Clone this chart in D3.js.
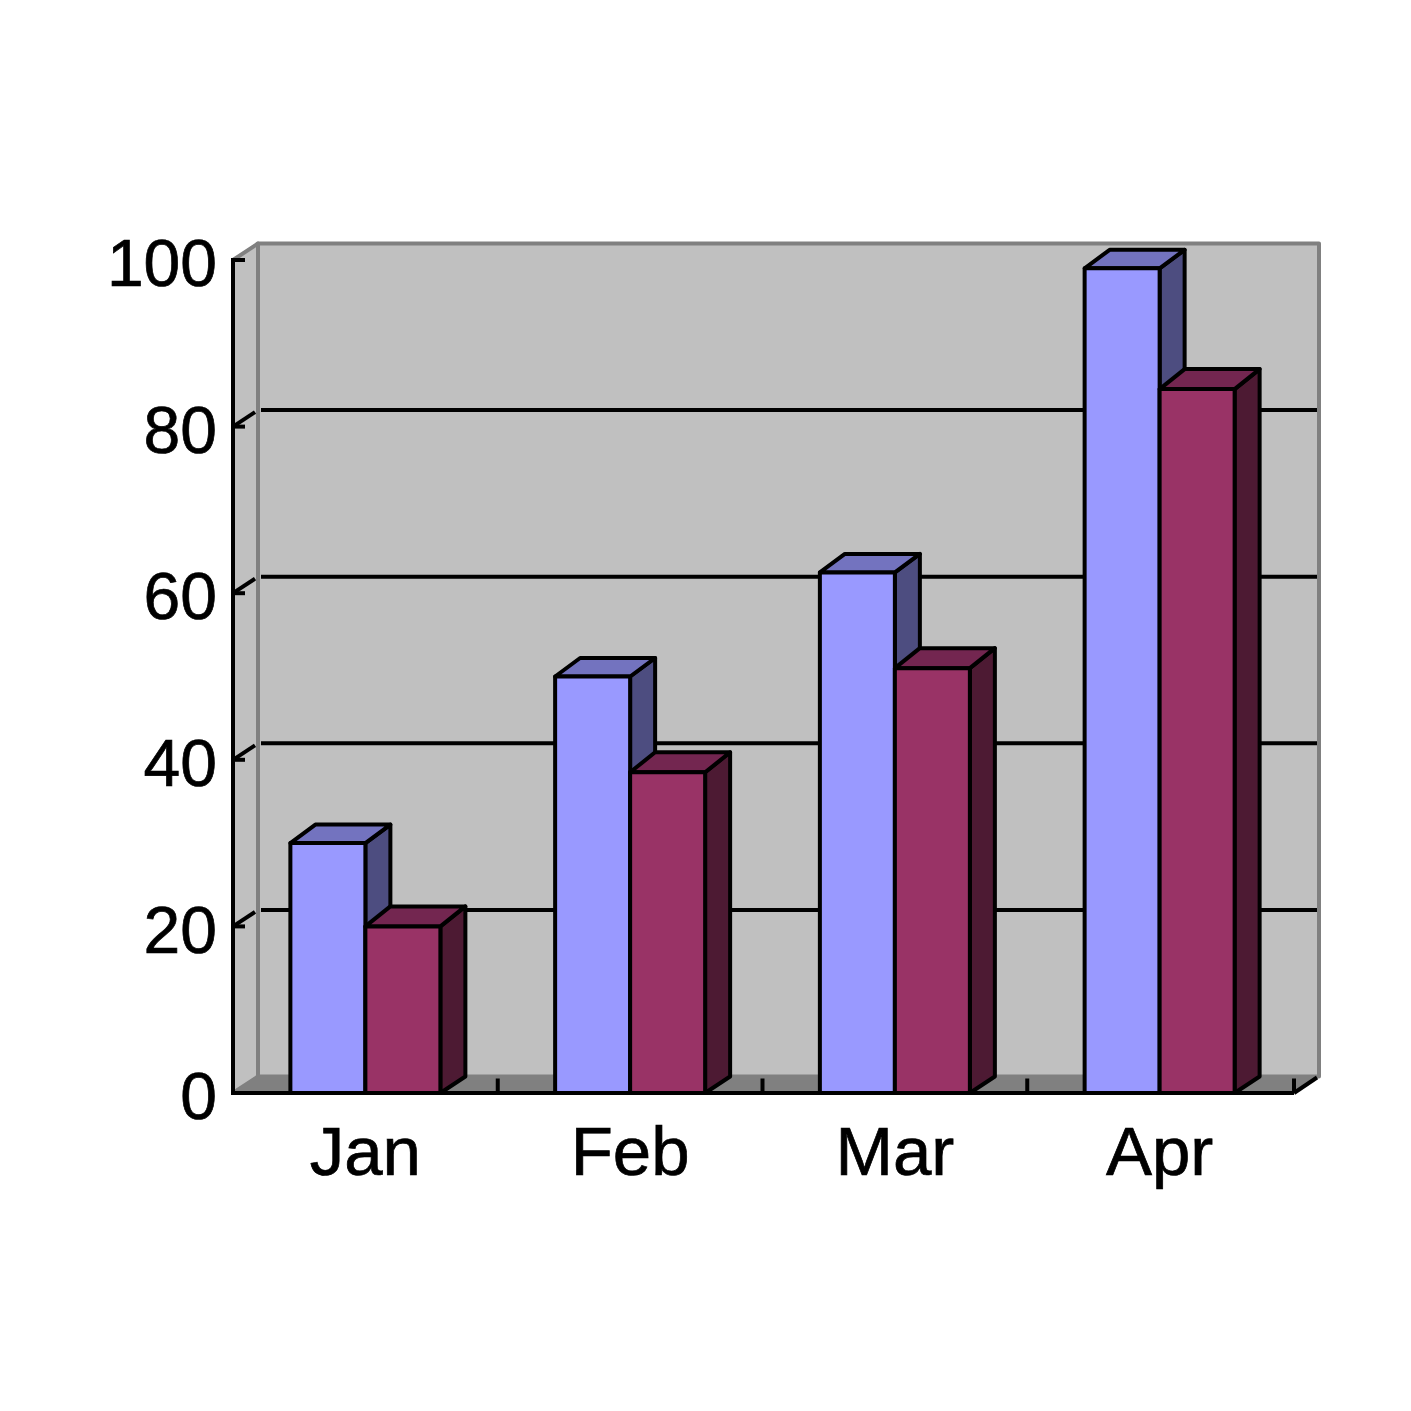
<!DOCTYPE html>
<html>
<head>
<meta charset="utf-8">
<script src="https://cdn.jsdelivr.net/npm/d3@7/dist/d3.min.js"></script>
<style>
html, body { margin: 0; background: #fff; }
text { font-family: "Liberation Sans", Arial, sans-serif; fill: #000; stroke: #000; stroke-width: 0.7px; }
</style>
</head>
<body>
<div id="chart"></div>
<script>
var months = ['Jan', 'Feb', 'Mar', 'Apr'];
var series1 = [30, 50, 62.5, 99];
var series2 = [20, 38.5, 51, 84.5];
var yTicks = [0, 20, 40, 60, 80, 100];

var left = 233, right = 1294, top0 = 260, bottom = 1093;
var depthX = 25, depthY = -16.5, barW = 75;
var lineW = 4;

var svg = d3.select('#chart').append('svg').attr('width', 1411).attr('height', 1411);

var x = d3.scaleBand().domain(months).range([left, right - 2]);
var y = d3.scaleLinear().domain([0, 100]).range([bottom, top0]);

function pts(a) {
  return a.map(function (p) { return p.join(','); }).join(' ');
}

function wall(points, fill) {
  svg.append('polygon').attr('points', pts(points)).attr('fill', fill)
    .attr('stroke', '#808080').attr('stroke-width', lineW).attr('stroke-linejoin', 'round');
}

function line(x1, y1, x2, y2) {
  svg.append('line').attr('x1', x1).attr('y1', y1).attr('x2', x2).attr('y2', y2)
    .attr('stroke', '#000').attr('stroke-width', lineW);
}

// back wall, left wall, floor
wall([[left + depthX, top0 + depthY], [right + depthX, top0 + depthY], [right + depthX, bottom + depthY], [left + depthX, bottom + depthY]], '#c0c0c0');
wall([[left, top0], [left + depthX, top0 + depthY], [left + depthX, bottom + depthY], [left, bottom]], '#c0c0c0');
svg.append('polygon')
  .attr('points', pts([[left, bottom], [left + depthX, bottom + depthY], [right + depthX, bottom + depthY], [right, bottom]]))
  .attr('fill', '#808080');

// gridlines
yTicks.forEach(function (t) {
  if (t > 0 && t < 100) {
    line(left + depthX + 3, y(t) + depthY, right + depthX - 2, y(t) + depthY);
    line(left, y(t), left + depthX - 3, y(t) + depthY + 2);
  }
  line(left - 2, y(t), left + 12, y(t));
});

// axes
line(left, top0 - 2, left, bottom + 2);
line(left - 2, bottom, right, bottom);
line(right, bottom, right + depthX - 2, bottom + depthY + 1);
months.forEach(function (m, i) {
  var tx = i < months.length - 1 ? x(m) + x.bandwidth() : right;
  line(tx, bottom, tx, bottom + depthY + 2);
});

function drawBar(x0, value, rise, front, topFace, side) {
  var x1 = x0 + barW, yv = y(value);
  var g = svg.append('g').attr('stroke', '#000').attr('stroke-width', lineW).attr('stroke-linejoin', 'round');
  g.append('polygon').attr('fill', side)
    .attr('points', pts([[x1, yv], [x1 + depthX, yv - rise], [x1 + depthX, bottom + depthY], [x1, bottom]]));
  g.append('polygon').attr('fill', topFace)
    .attr('points', pts([[x0, yv], [x0 + depthX, yv - rise], [x1 + depthX, yv - rise], [x1, yv]]));
  g.append('rect').attr('x', x0).attr('y', yv).attr('width', barW).attr('height', bottom - yv).attr('fill', front);
}

months.forEach(function (m, i) {
  var c = x(m) + x.bandwidth() / 2;
  drawBar(c - barW, series1[i], 18.5, '#9999ff', '#7373bf', '#4d4d80');
  drawBar(c, series2[i], 20, '#993366', '#732650', '#4d1a33');
});

// labels through axes
var yAxis = d3.axisLeft(y).tickValues(yTicks).tickSize(0).tickPadding(16);
svg.append('g').attr('transform', 'translate(' + left + ',0)').call(yAxis)
  .call(function (g) { g.select('.domain').remove(); })
  .selectAll('text').attr('font-size', 66).attr('font-family', '"Liberation Sans"').attr('dy', '0.39em');

var xAxis = d3.axisBottom(x).tickSize(0).tickPadding(33);
svg.append('g').attr('transform', 'translate(0,' + bottom + ')').call(xAxis)
  .call(function (g) { g.select('.domain').remove(); })
  .selectAll('text').attr('font-size', 69).attr('font-family', '"Liberation Sans"');
</script>
</body>
</html>
